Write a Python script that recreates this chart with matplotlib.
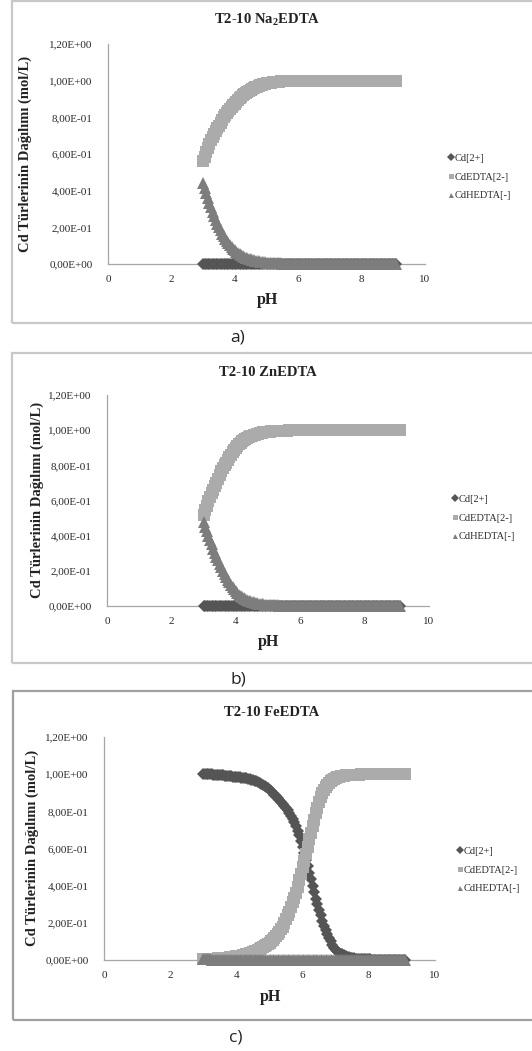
import numpy as np
import matplotlib
matplotlib.use("Agg")
import matplotlib.pyplot as plt
from matplotlib.patches import Rectangle
from matplotlib.lines import Line2D

plt.rcParams['font.family'] = ['Liberation Serif', 'DejaVu Serif']
plt.rcParams['mathtext.fontset'] = 'custom'
plt.rcParams['mathtext.rm'] = 'Liberation Serif'
plt.rcParams['mathtext.bf'] = 'Liberation Serif:bold'

# ---------------- data ----------------
pH = np.round(np.arange(3.0, 9.10001, 0.05), 2)   # 3.00 ... 9.10 (123 points)

series_names = ["Cd[2+]", "CdEDTA[2-]", "CdHEDTA[-]"]
titles = [r"T2-10 Na$_\mathbf{2}$EDTA", "T2-10 ZnEDTA", "T2-10 FeEDTA"]
panel_labels = ["a)", "b)", "c)"]
xticks = [0, 2, 4, 6, 8, 10]
yticks = [0.0, 0.2, 0.4, 0.6, 0.8, 1.0, 1.2]
ytick_labels = ["0,00E+00", "2,00E-01", "4,00E-01", "6,00E-01", "8,00E-01", "1,00E+00", "1,20E+00"]

# Panel a (Na2EDTA)
a_cd = [0.0] * 123
a_edta = [0.56, 0.585, 0.61, 0.635, 0.655, 0.675, 0.695, 0.71, 0.725, 0.74,
          0.755, 0.77, 0.785, 0.80, 0.81, 0.825, 0.835, 0.845, 0.855, 0.865,
          0.875, 0.885, 0.895, 0.905, 0.912, 0.92, 0.927, 0.933, 0.94, 0.945,
          0.95, 0.955, 0.96, 0.964, 0.968, 0.972, 0.975, 0.978, 0.98, 0.982,
          0.985, 0.987, 0.988, 0.99, 0.991, 0.992, 0.993, 0.994, 0.995, 0.996,
          0.996, 0.997, 0.997, 0.998, 0.998, 0.998, 0.999, 0.999, 0.999, 0.999,
          1.0] + [1.0] * 62
a_hedta = [0.443, 0.415, 0.387, 0.360, 0.334, 0.309, 0.285, 0.262, 0.240, 0.220,
           0.201, 0.183, 0.166, 0.151, 0.137, 0.124, 0.112, 0.101, 0.091, 0.082,
           0.074, 0.066, 0.059, 0.053, 0.048, 0.043, 0.038, 0.034, 0.031, 0.027,
           0.025, 0.022, 0.020, 0.017, 0.016, 0.014, 0.012, 0.011, 0.010, 0.009,
           0.008, 0.007, 0.006, 0.0056, 0.005, 0.0045, 0.004, 0.0035, 0.003, 0.0028,
           0.0025, 0.002, 0.002, 0.0018, 0.0016, 0.0014, 0.0013, 0.0011, 0.001, 0.001,
           0.001] + [0.0] * 62

# Panel b (ZnEDTA)
b_cd = [0.0] * 123
b_edta = [0.52, 0.545, 0.57, 0.595, 0.62, 0.64, 0.66, 0.68, 0.70, 0.72,
          0.745, 0.765, 0.785, 0.80, 0.815, 0.83, 0.845, 0.86, 0.875, 0.888,
          0.90, 0.91, 0.92, 0.928, 0.936, 0.943, 0.949, 0.954, 0.959, 0.964,
          0.968, 0.972, 0.975, 0.978, 0.981, 0.983, 0.985, 0.987, 0.989, 0.99,
          0.991, 0.992, 0.993, 0.994, 0.995, 0.995, 0.996, 0.996, 0.997, 0.997,
          0.998, 0.998, 0.998, 0.999, 0.999, 0.999, 0.999, 0.999, 1.0, 1.0,
          1.0] + [1.0] * 62
b_hedta = [0.475, 0.45, 0.425, 0.40, 0.375, 0.35, 0.325, 0.30, 0.28, 0.26,
           0.24, 0.22, 0.20, 0.183, 0.166, 0.15, 0.135, 0.12, 0.107, 0.095,
           0.084, 0.074, 0.065, 0.057, 0.050, 0.044, 0.039, 0.034, 0.030, 0.026,
           0.023, 0.020, 0.018, 0.016, 0.014, 0.012, 0.011, 0.009, 0.008, 0.007,
           0.006, 0.0055, 0.005, 0.0045, 0.004, 0.0035, 0.003, 0.0027, 0.0024, 0.0021,
           0.0019, 0.0017, 0.0015, 0.0013, 0.0012, 0.001, 0.001, 0.0008, 0.0007, 0.0006,
           0.0005] + [0.0] * 62

# Panel c (FeEDTA)
c_cd = [1.0, 1.0, 1.0, 1.0, 0.999, 0.999, 0.998, 0.998, 0.997, 0.996,
        0.995, 0.994, 0.993, 0.992, 0.991, 0.99, 0.989, 0.988, 0.987, 0.986,
        0.985, 0.984, 0.983, 0.982, 0.98, 0.979, 0.977, 0.975, 0.973, 0.971,
        0.968, 0.965, 0.962, 0.958, 0.954, 0.949, 0.944, 0.938, 0.932, 0.925,
        0.917, 0.909, 0.90, 0.89, 0.88, 0.87, 0.86, 0.85, 0.84, 0.83,
        0.82, 0.805, 0.79, 0.775, 0.76, 0.74, 0.72, 0.695, 0.67, 0.64,
        0.61, 0.575, 0.54, 0.505, 0.47, 0.435, 0.40, 0.365, 0.33, 0.30,
        0.27, 0.24, 0.21, 0.185, 0.16, 0.14, 0.12, 0.10, 0.08, 0.067,
        0.055, 0.047, 0.04, 0.034, 0.03, 0.025, 0.02, 0.017, 0.015, 0.012,
        0.01, 0.009, 0.008, 0.007, 0.006, 0.005, 0.005, 0.004, 0.004, 0.003,
        0.003, 0.003, 0.002, 0.002, 0.002, 0.002, 0.001, 0.001, 0.001, 0.001] \
       + [0.001] * 4 + [0.0] * 9
c_edta = [0.005, 0.005, 0.005, 0.006, 0.006, 0.007, 0.007, 0.008, 0.008, 0.009,
          0.009, 0.01, 0.011, 0.012, 0.012, 0.013, 0.014, 0.015, 0.016, 0.017,
          0.019, 0.02, 0.022, 0.024, 0.026, 0.028, 0.03, 0.033, 0.036, 0.039,
          0.042, 0.046, 0.05, 0.054, 0.058, 0.063, 0.068, 0.074, 0.08, 0.087,
          0.094, 0.102, 0.11, 0.118, 0.127, 0.138, 0.15, 0.165, 0.18, 0.20,
          0.22, 0.24, 0.26, 0.285, 0.31, 0.335, 0.36, 0.395, 0.43, 0.465,
          0.50, 0.535, 0.57, 0.61, 0.65, 0.685, 0.72, 0.755, 0.79, 0.82,
          0.85, 0.875, 0.90, 0.915, 0.93, 0.943, 0.955, 0.963, 0.97, 0.975,
          0.98, 0.983, 0.985, 0.988, 0.99, 0.991, 0.993, 0.994, 0.995, 0.996,
          0.997, 0.997, 0.998, 0.998, 0.998, 0.999, 0.999, 0.999, 0.999, 0.999] \
         + [1.0] * 23
c_hedta = [0.004, 0.004, 0.003, 0.003, 0.003, 0.002, 0.002, 0.002, 0.002, 0.001] \
          + [0.001] * 10 + [0.0] * 103

panels = [(a_cd, a_edta, a_hedta), (b_cd, b_edta, b_hedta), (c_cd, c_edta, c_hedta)]
for p in panels:
    for s in p:
        assert len(s) == len(pH), len(s)

# ---------------- layout (pixels) ----------------
W, H = 532, 1051
fig = plt.figure(figsize=(W / 100, H / 100), dpi=100)
fig.patch.set_facecolor('white')

def fx(x):
    return x / W

def fy(y):
    return 1 - y / H

# axes: (x0, x1, ytop(1.2), ybottom(0))
axes_px = [(108, 425, 44, 264), (107, 429, 395, 606), (104, 435, 737, 960)]
boxes_px = [(12, 1, 540, 323, '#c8c8c8'), (12, 353, 540, 663, '#c8c8c8'), (13, 691, 540, 1020, '#a0a0a0')]
title_px = [(267, 20), (268, 372), (272, 713)]
xlabel_px = [(267, 300), (268, 642), (270, 997)]
ylabel_px = [(25, 154), (37, 500), (32, 848)]
legend_px = [(448, 177), (452, 518), (457, 870)]
plabel_px = [(238, 338), (238, 679), (236, 1038)]

colors = ['#555555', '#ababab', '#7d7d7d']
markers = ['D', 's', '^']
msizes = [6.6, 8.4, 8.4]

for i in range(3):
    x0, x1, yt, yb = axes_px[i]
    bx0, by0, bx1, by1, bc = boxes_px[i]
    fig.patches.append(Rectangle((fx(bx0), fy(by1)), fx(bx1 - bx0), (by1 - by0) / H,
                                 transform=fig.transFigure, fill=False,
                                 edgecolor=bc, lw=1.6, zorder=0))
    ax = fig.add_axes([fx(x0), fy(yb), fx(x1 - x0), (yb - yt) / H])
    ax.set_xlim(0, 10)
    ax.set_ylim(0, 1.2)
    for j in range(3):
        ax.plot(pH, panels[i][j], linestyle='none', marker=markers[j], ms=msizes[j],
                color=colors[j], mec=colors[j], mew=0.0, clip_on=False,
                label=series_names[j], zorder=3 + j)
    ax.set_xticks(xticks)
    ax.set_xticklabels([str(t) for t in xticks], fontsize=8, color='#2a2a2a')
    ax.set_yticks(yticks)
    ax.set_yticklabels(ytick_labels, fontsize=8, color='#2a2a2a')
    ax.tick_params(length=0, pad=11)
    ax.tick_params(axis='x', pad=8)
    for s in ['top', 'right']:
        ax.spines[s].set_visible(False)
    for s in ['left', 'bottom']:
        ax.spines[s].set_color('#a6a6a6')
        ax.spines[s].set_linewidth(0.9)
    ax.patch.set_alpha(0)

    fig.text(fx(title_px[i][0]), fy(title_px[i][1]), titles[i], ha='center', va='center',
             fontsize=10.5, fontweight='bold', color='#222222')
    fig.text(fx(xlabel_px[i][0]), fy(xlabel_px[i][1]), 'pH', ha='center', va='center',
             fontsize=11.5, fontweight='bold', color='#222222')
    fig.text(fx(ylabel_px[i][0]), fy(ylabel_px[i][1]), 'Cd Türlerinin Dağılımı (mol/L)',
             ha='center', va='center', rotation=90, fontsize=10.5, fontweight='bold', color='#222222')

    handles = [Line2D([], [], linestyle='none', marker=markers[j], color=colors[j], ms=3.6, mew=0)
               for j in range(3)]
    fig.legend(handles, series_names, loc='center left',
               bbox_to_anchor=(fx(legend_px[i][0]), fy(legend_px[i][1])),
               bbox_transform=fig.transFigure, frameon=False, fontsize=7.5,
               handlelength=0.5, handletextpad=0.15, labelspacing=0.9,
               borderpad=0, borderaxespad=0, labelcolor='#2a2a2a')

    fig.text(fx(plabel_px[i][0]), fy(plabel_px[i][1]), panel_labels[i], ha='center', va='center',
             fontsize=12.5, family=['Open Sans', 'DejaVu Sans'], color='#222222')

fig.savefig('out.png', dpi=100, facecolor='white')
